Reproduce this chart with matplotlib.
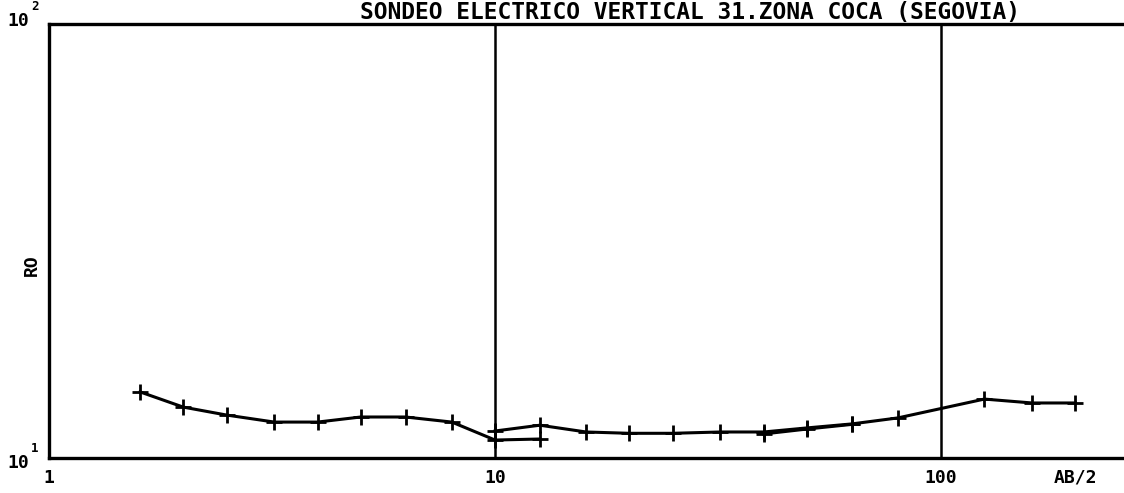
import matplotlib
matplotlib.use("Agg")
import matplotlib.pyplot as plt
from matplotlib.ticker import NullLocator

# Branch 1 (short spacing)
ab2_a = [1.6, 2.0, 2.5, 3.2, 4.0, 5.0, 6.3, 8.0, 10.0, 12.6]
rho_a = [14.2, 13.1, 12.56, 12.1, 12.1, 12.43, 12.43, 12.1, 11.0, 11.06]
# Branch 2 (long spacing)
ab2_b = [10.0, 12.6, 16.0, 20.0, 25.0, 32.0, 40.0, 50.0, 63.0, 80.0, 125.0, 160.0, 200.0]
rho_b = [11.54, 11.9, 11.48, 11.4, 11.4, 11.48, 11.48, 11.73, 11.98, 12.37, 13.67, 13.39, 13.39]
# Branch 3 (overlap segment)
ab2_c = [40.0, 50.0, 63.0]
rho_c = [11.36, 11.66, 11.95]

title = "SONDEO ELECTRICO VERTICAL 31.ZONA COCA (SEGOVIA)"
x_tick_vals = [1, 10, 100]
x_tick_labels = ["1", "10", "100"]

fig = plt.figure(figsize=(11.24, 4.93), dpi=100)
ax = fig.add_axes([49/1124, 1 - 458/493, 1 - 49/1124, (458 - 24)/493])
ax.set_xscale("log")
ax.set_yscale("log")
ax.set_xlim(1, 10 ** 2.41)
ax.set_ylim(10, 100)

for xs, ys in [(ab2_a, rho_a), (ab2_b, rho_b), (ab2_c, rho_c)]:
    ax.plot(xs, ys, color="black", lw=2.2, marker="+", ms=11, mew=2.0)

for v in [10, 100]:
    ax.axvline(v, color="black", lw=1.8, zorder=1)

for s in ["left", "bottom", "top"]:
    ax.spines[s].set_linewidth(2.4)
ax.spines["right"].set_visible(False)

ax.xaxis.set_major_locator(NullLocator())
ax.xaxis.set_minor_locator(NullLocator())
ax.yaxis.set_major_locator(NullLocator())
ax.yaxis.set_minor_locator(NullLocator())

font = dict(family="DejaVu Sans Mono", weight="bold", color="black")
for v, lab in zip(x_tick_vals, x_tick_labels):
    ax.text(v, -0.025, lab, transform=ax.get_xaxis_transform(),
            ha="center", va="top", fontsize=13, **font)
ax.text(0.955, -0.025, "AB/2", transform=ax.transAxes, ha="center", va="top",
        fontsize=13, **font)

fig.text(18/1124, 1 - 463/493, "10", ha="center", va="center", fontsize=13, **font)
fig.text(35/1124, 1 - 449/493, "1", ha="center", va="center", fontsize=9, **font)
fig.text(18/1124, 1 - 21/493, "10", ha="center", va="center", fontsize=13, **font)
fig.text(35/1124, 1 - 7/493, "2", ha="center", va="center", fontsize=9, **font)

fig.text(32/1124, 1 - 265/493, "RO", rotation=90, ha="center", va="center",
         fontsize=13, **font)

fig.text(690/1124, 1 - 12/493, title, ha="center", va="center", fontsize=16.5,
         **font)

fig.savefig("out.png", dpi=100)
